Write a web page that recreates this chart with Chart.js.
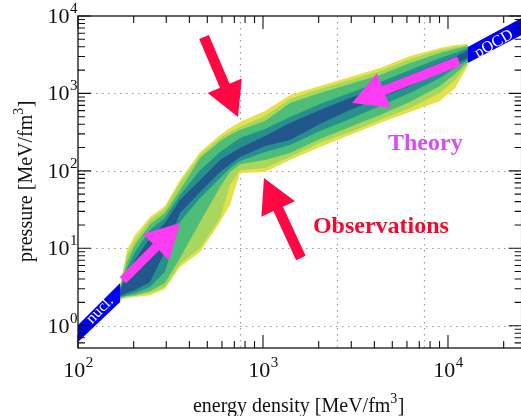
<!DOCTYPE html>
<html>
<head>
<meta charset="utf-8">
<script src="https://cdn.jsdelivr.net/npm/chart.js@4.4.0/dist/chart.umd.min.js"></script>
<style>
  html, body { margin: 0; padding: 0; overflow: hidden; background: #fff; }
  #wrap { width: 524px; height: 416px; }
</style>
</head>
<body>
<div id="wrap"><canvas id="eos" width="524" height="416"></canvas></div>
<script>
// energy density grid shared by the credibility bands [MeV/fm^3]
const epsGrid = [169, 184, 203, 245, 295, 356, 457, 586, 663, 751, 1025, 1400, 2030, 2950, 4290, 6230, 9050, 10910, 12800];

// pressure edges of the bands [MeV/fm^3], 1 = innermost, 5 = outermost
const upper5 = [3.35, 9.48, 14.8, 25.3, 35.1, 76.0, 175, 290, 357, 427, 592, 953, 1250, 1630, 2130, 3040, 3860, 4220, 4350];
const upper4 = [3.25, 8.17, 12.8, 23.1, 32.1, 69.6, 160, 265, 317, 368, 511, 846, 1140, 1490, 1950, 2780, 3640, 3980, 4220];
const upper3 = [3.15, 6.63, 11.0, 20.5, 28.5, 56.5, 146, 243, 290, 337, 440, 752, 1010, 1320, 1730, 2470, 3330, 3750, 4100];
const upper2 = [3.06, 5.55, 8.93, 17.2, 24.6, 48.7, 102, 175, 215, 265, 347, 496, 730, 1010, 1400, 2010, 2870, 3330, 3860];
const upper1 = [2.88, 4.51, 7.04, 13.5, 21.2, 42.0, 76.0, 138, 165, 197, 282, 415, 610, 872, 1210, 1730, 2470, 2950, 3640];
const lower1 = [2.41, 2.64, 2.88, 3.66, 8.93, 28.5, 53.2, 96.5, 122, 151, 209, 250, 402, 610, 872, 1250, 1890, 2400, 2870];
const lower2 = [2.34, 2.48, 2.64, 3.15, 4.93, 21.8, 44.5, 80.7, 109, 134, 175, 215, 327, 467, 687, 1010, 1580, 2130, 2700];
const lower3 = [2.27, 2.41, 2.48, 2.80, 3.55, 7.47, 21.8, 61.8, 96.5, 122, 138, 170, 258, 368, 526, 774, 1250, 1780, 2540];
const lower4 = [2.21, 2.34, 2.41, 2.64, 3.15, 6.25, 10.1, 24.6, 65.5, 102, 109, 151, 229, 317, 453, 648, 1010, 1490, 2400];
const lower5 = [2.14, 2.27, 2.34, 2.48, 2.97, 5.72, 8.93, 21.8, 36.1, 93.7, 96.5, 138, 203, 290, 415, 575, 797, 1170, 2260];

// nuclear theory and pQCD limits
const nuclEps = [100, 169];
const nuclUpper = [1.02, 3.55];
const nuclLower = [0.614, 2.02];
const pqcdEps = [12800, 25000];
const pqcdUpper = [3980, 9420];
const pqcdLower = [2470, 5680];

// dotted reference lines
const gridPressures = [1, 10, 100, 1000];
const gridEnergies = [750, 2500, 7450];

// tick label exponents
const xDecades = [2, 3, 4];
const yDecades = [0, 1, 2, 3, 4];

const bandColors = ['#21578b', '#26908d', '#4ebd78', '#a9d65c', '#e3e14c'];
const uppers = [upper1, upper2, upper3, upper4, upper5];
const lowers = [lower1, lower2, lower3, lower4, lower5];

function polygon(eps, up, lo) {
  const pts = up.map((p, i) => ({x: eps[i], y: p}));
  for (let i = lo.length - 1; i >= 0; i--) pts.push({x: eps[i], y: lo[i]});
  return pts;
}

const shapeStyle = {showLine: true, fill: 'shape', borderWidth: 0, borderColor: 'rgba(0,0,0,0)', pointRadius: 0, tension: 0};

const datasets = [
  Object.assign({data: polygon(nuclEps, nuclUpper, nuclLower), backgroundColor: 'rgb(0,0,245)', order: 0}, shapeStyle),
  Object.assign({data: polygon(pqcdEps, pqcdUpper, pqcdLower), backgroundColor: 'rgb(0,0,245)', order: 0}, shapeStyle)
];
bandColors.forEach((c, k) => {
  datasets.push(Object.assign({data: polygon(epsGrid, uppers[k], lowers[k]), backgroundColor: c, order: k + 1}, shapeStyle));
});

// annotations, anchored in data coordinates
const arrows = [
  {from: [480, 5350], to: [733, 496], color: '#ff0844', shaft: 10.5},
  {from: [1603, 7.47], to: [1012, 80.7], color: '#ff0844', shaft: 10.5},
  {from: [175, 3.88], to: [356, 21.2], color: '#fb3cf3', shaft: 9},
  {from: [11460, 2620], to: [3030, 752], color: '#fb3cf3', shaft: 9.5}
];
const serif = '"Liberation Serif", "Times New Roman", serif';

function drawArrow(ctx, x0, y0, x1, y1, shaft, headLen, headW, color) {
  const L = Math.hypot(x1 - x0, y1 - y0);
  const ux = (x1 - x0) / L, uy = (y1 - y0) / L, nx = -uy, ny = ux;
  const bx = x1 - ux * headLen, by = y1 - uy * headLen;
  ctx.fillStyle = color;
  ctx.beginPath();
  ctx.moveTo(x0 + nx * shaft / 2, y0 + ny * shaft / 2);
  ctx.lineTo(bx + nx * shaft / 2, by + ny * shaft / 2);
  ctx.lineTo(bx + nx * headW / 2, by + ny * headW / 2);
  ctx.lineTo(x1, y1);
  ctx.lineTo(bx - nx * headW / 2, by - ny * headW / 2);
  ctx.lineTo(bx - nx * shaft / 2, by - ny * shaft / 2);
  ctx.lineTo(x0 - nx * shaft / 2, y0 - ny * shaft / 2);
  ctx.closePath();
  ctx.fill();
}

// "10" with a raised exponent; align is 'center' or 'right'
function powerLabel(ctx, exp, x, y, align) {
  ctx.font = '22px ' + serif;
  const wb = ctx.measureText('10').width;
  ctx.font = '15px ' + serif;
  const we = ctx.measureText(String(exp)).width;
  const left = align === 'center' ? x - (wb + we) / 2 : x - wb - we;
  ctx.font = '22px ' + serif;
  ctx.fillText('10', left, y);
  ctx.font = '15px ' + serif;
  ctx.fillText(String(exp), left + wb + 0.5, y - 10);
}

// text with a superscript 3 inside the unit, centered at x
function unitTitle(ctx, head, x, y) {
  const big = '20px ' + serif, small = '14px ' + serif;
  ctx.font = big;
  const w1 = ctx.measureText(head).width, w3 = ctx.measureText(']').width;
  ctx.font = small;
  const w2 = ctx.measureText('3').width;
  let left = x - (w1 + w2 + w3) / 2;
  ctx.font = big; ctx.fillText(head, left, y);
  ctx.font = small; ctx.fillText('3', left + w1, y - 9);
  ctx.font = big; ctx.fillText(']', left + w1 + w2 + 0.5, y);
}

function logTicks(min, max) {
  const out = [];
  for (let d = Math.floor(Math.log10(min)); d <= Math.ceil(Math.log10(max)); d++) {
    for (let m = 1; m <= 9; m++) {
      const v = m * Math.pow(10, d);
      if (v >= min * 0.999 && v <= max * 1.001) out.push({v, major: m === 1});
    }
  }
  return out;
}

const decor = {
  id: 'decor',
  beforeDatasetsDraw(chart) {
    const {ctx, chartArea: a, scales: {x, y}} = chart;
    ctx.save();
    ctx.strokeStyle = '#9a9a9a';
    ctx.lineWidth = 1.2;
    ctx.setLineDash([1.5, 4.5]);
    ctx.beginPath();
    gridPressures.forEach(p => {
      const py = Math.round(y.getPixelForValue(p)) + 0.5;
      ctx.moveTo(a.left, py); ctx.lineTo(a.right, py);
    });
    gridEnergies.forEach(e => {
      const px = Math.round(x.getPixelForValue(e)) + 0.5;
      ctx.moveTo(px, a.top); ctx.lineTo(px, a.bottom);
    });
    ctx.stroke();
    ctx.restore();
  },
  afterDatasetsDraw(chart) {
    const {ctx, scales: {x, y}} = chart;
    ctx.save();
    arrows.forEach(ar => {
      drawArrow(ctx, x.getPixelForValue(ar.from[0]), y.getPixelForValue(ar.from[1]),
        x.getPixelForValue(ar.to[0]), y.getPixelForValue(ar.to[1]), ar.shaft, 34, 37, ar.color);
    });
    ctx.fillStyle = '#fff';
    ctx.textAlign = 'center';
    ctx.textBaseline = 'middle';
    ctx.font = '16px ' + serif;
    ctx.save();
    ctx.translate(x.getPixelForValue(131.5), y.getPixelForValue(1.59));
    ctx.rotate(-46 * Math.PI / 180);
    ctx.fillText('nucl.', 0, 0);
    ctx.restore();
    ctx.save();
    ctx.translate(x.getPixelForValue(17730), y.getPixelForValue(4346));
    ctx.rotate(-30 * Math.PI / 180);
    ctx.fillText('pQCD', 0, 0);
    ctx.restore();
    ctx.textAlign = 'left';
    ctx.textBaseline = 'alphabetic';
    ctx.font = 'bold 24px ' + serif;
    ctx.fillStyle = '#d64ff0';
    ctx.fillText('Theory', x.getPixelForValue(4740), y.getPixelForValue(186));
    ctx.fillStyle = '#f00a2d';
    ctx.fillText('Observations', x.getPixelForValue(1862), y.getPixelForValue(15.7));
    ctx.restore();
  },
  afterDraw(chart) {
    const {ctx, chartArea: a, scales: {x, y}} = chart;
    ctx.save();
    ctx.strokeStyle = '#111';
    ctx.lineWidth = 1.3;
    ctx.strokeRect(a.left, a.top, a.right - a.left, a.bottom - a.top);
    ctx.lineWidth = 1.1;
    ctx.beginPath();
    logTicks(x.min, x.max).forEach(t => {
      const px = x.getPixelForValue(t.v), len = t.major ? 13 : 7;
      ctx.moveTo(px, a.bottom); ctx.lineTo(px, a.bottom - len);
      ctx.moveTo(px, a.top); ctx.lineTo(px, a.top + len);
    });
    logTicks(y.min, y.max).forEach(t => {
      const py = y.getPixelForValue(t.v), len = t.major ? 13 : 7;
      ctx.moveTo(a.left, py); ctx.lineTo(a.left + len, py);
      ctx.moveTo(a.right, py); ctx.lineTo(a.right - len, py);
    });
    ctx.stroke();

    ctx.fillStyle = '#111';
    ctx.textBaseline = 'alphabetic';
    ctx.textAlign = 'left';
    xDecades.forEach(d => powerLabel(ctx, d, x.getPixelForValue(Math.pow(10, d)), a.bottom + 29, 'center'));
    yDecades.forEach(d => powerLabel(ctx, d, a.left - 1, y.getPixelForValue(Math.pow(10, d)) + 7, 'right'));

    unitTitle(ctx, 'energy density [MeV/fm', 298.5, 412);
    ctx.save();
    ctx.translate(32, 181.5);
    ctx.rotate(-Math.PI / 2);
    unitTitle(ctx, 'pressure [MeV/fm', 0, 0);
    ctx.restore();
    ctx.restore();
  }
};

new Chart(document.getElementById('eos'), {
  type: 'scatter',
  data: {datasets},
  options: {
    responsive: false,
    animation: false,
    events: [],
    layout: {padding: {left: 78, top: 16, right: 2.4, bottom: 68}},
    plugins: {legend: {display: false}, tooltip: {enabled: false}},
    scales: {
      x: {type: 'logarithmic', min: 100, max: 25000, display: false},
      y: {type: 'logarithmic', min: 0.515, max: 10000, display: false}
    }
  },
  plugins: [decor]
});
</script>
</body>
</html>
